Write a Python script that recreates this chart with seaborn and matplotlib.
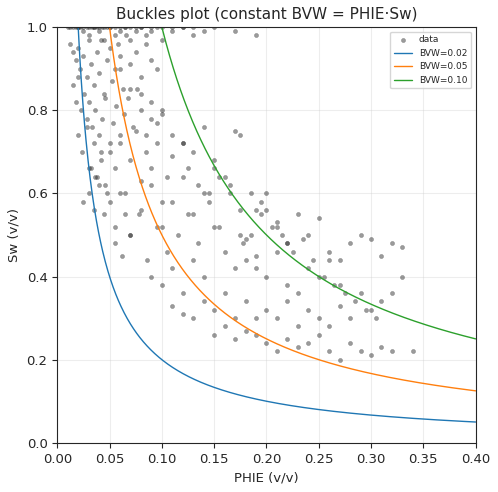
import numpy as np
import matplotlib
matplotlib.use("Agg")
import matplotlib.pyplot as plt
import seaborn as sns

phie = [0.010,0.012,0.015,0.018,0.020,0.022,0.025,0.028,0.030,0.033,0.035,0.038,0.040,0.043,0.045,0.048,0.050,0.055,0.060,0.065,0.070,0.075,0.080,0.090,0.100,0.110,0.120,0.130,0.150,0.170,0.190,
        0.012,0.015,0.018,0.020,0.022,0.025,0.028,0.030,0.032,0.035,0.038,0.040,0.042,0.045,0.048,0.050,0.052,0.055,0.058,0.060,0.063,0.066,0.070,0.075,0.080,0.085,0.090,0.095,
        0.015,0.018,0.020,0.023,0.026,0.028,0.030,0.033,0.036,0.040,0.043,0.046,0.050,0.053,0.056,0.060,0.064,0.068,0.072,0.076,0.080,0.085,0.090,0.095,0.100,
        0.020,0.024,0.028,0.032,0.035,0.038,0.042,0.046,0.050,0.055,0.060,0.065,0.070,0.075,0.080,0.085,0.090,0.095,0.100,0.105,0.110,
        0.025,0.030,0.035,0.040,0.045,0.050,0.055,0.060,0.065,0.070,0.080,0.090,0.100,0.110,0.120,0.130,0.140,0.150,
        0.030,0.036,0.042,0.048,0.055,0.062,0.070,0.078,0.086,0.095,0.105,0.115,0.125,0.135,0.145,0.155,0.165,0.175,0.185,0.195,
        0.060,0.070,0.080,0.090,0.100,0.110,0.120,0.130,0.140,0.150,0.160,0.170,0.175,0.178,0.180,0.190,0.200,0.210,0.220,
        0.090,0.100,0.110,0.120,0.130,0.140,0.150,0.160,0.170,0.180,0.190,0.200,0.210,0.220,0.230,0.240,0.250,0.260,0.270,
        0.110,0.120,0.130,0.140,0.150,0.160,0.170,0.180,0.190,0.200,0.210,0.220,0.230,0.240,0.250,0.260,0.270,0.280,0.290,0.300,0.310,0.320,0.330,
        0.150,0.160,0.170,0.180,0.190,0.200,0.210,0.220,0.230,0.240,0.250,0.260,0.270,0.280,0.290,0.300,0.310,0.320,
        0.190,0.200,0.210,0.220,0.230,0.240,0.250,0.260,0.270,0.280,0.290,0.300,0.310,0.320,0.330,0.340,
        0.120,0.125,0.135,0.145,0.155,0.165,0.175,0.185,0.195,0.205,0.215,0.225,0.235,0.245,0.255,0.265,0.275,0.285,0.295,0.305,
        0.020,0.025,0.030,0.035,0.040,0.045,0.050,0.055,0.060,0.065,0.070,0.075,0.080,0.085,0.090,0.095,0.100,0.110,0.120,0.130,0.140]
sw = [1.00,1.00,1.00,1.00,1.00,1.00,1.00,1.00,1.00,1.00,1.00,1.00,1.00,1.00,1.00,1.00,1.00,1.00,1.00,1.00,1.00,1.00,1.00,1.00,1.00,1.00,1.00,1.00,1.00,0.99,0.98,
      0.96,0.94,0.92,0.95,0.90,0.93,0.88,0.97,0.91,0.86,0.94,0.89,0.97,0.84,0.92,0.95,0.87,0.90,0.96,0.93,0.85,0.98,0.91,0.94,0.88,0.96,0.92,0.90,
      0.86,0.82,0.88,0.80,0.84,0.78,0.82,0.76,0.80,0.74,0.78,0.83,0.72,0.77,0.81,0.74,0.79,0.83,0.76,0.85,0.80,0.74,0.82,0.77,0.79,
      0.74,0.70,0.76,0.66,0.72,0.64,0.68,0.62,0.70,0.66,0.72,0.60,0.68,0.75,0.63,0.70,0.66,0.72,0.58,0.64,0.69,
      0.58,0.60,0.56,0.62,0.55,0.58,0.52,0.60,0.55,0.50,0.56,0.62,0.52,0.58,0.64,0.55,0.60,0.66,
      0.66,0.64,0.70,0.60,0.48,0.45,0.50,0.55,0.44,0.52,0.46,0.50,0.55,0.48,0.60,0.52,0.62,0.74,0.50,0.58,
      0.90,0.85,0.84,0.78,0.80,0.74,0.72,0.70,0.76,0.68,0.64,0.75,0.50,0.48,0.49,0.45,0.56,0.52,0.48,
      0.40,0.38,0.42,0.36,0.44,0.40,0.52,0.46,0.42,0.44,0.42,0.40,0.46,0.38,0.36,0.42,0.40,0.44,0.38,
      0.33,0.31,0.30,0.34,0.32,0.36,0.30,0.34,0.30,0.32,0.30,0.34,0.28,0.32,0.30,0.28,0.33,0.30,0.36,0.32,0.34,0.36,0.47,
      0.26,0.28,0.25,0.27,0.26,0.24,0.22,0.25,0.23,0.24,0.26,0.22,0.20,0.24,0.22,0.21,0.23,0.22,
      0.56,0.60,0.53,0.48,0.55,0.50,0.54,0.46,0.44,0.48,0.50,0.49,0.45,0.48,0.40,0.22,
      0.72,0.66,0.62,0.58,0.64,0.60,0.56,0.60,0.55,0.52,0.50,0.46,0.49,0.44,0.40,0.38,0.36,0.34,0.32,0.30,
      1.00,0.99,0.98,1.00,0.99,0.97,1.00,0.98,0.99,1.00,0.97,0.99,1.00,0.98,0.99,1.00,0.97,0.99,1.00,0.98,0.99]

bvw_values = [0.02, 0.05, 0.10]

sns.set_style("ticks")
plt.rcParams.update({"font.size": 9.5, "axes.titlesize": 11})
fig, ax = plt.subplots(figsize=(4.98, 4.92), dpi=100)
sns.scatterplot(x=phie, y=sw, ax=ax, s=9, color="#222222", alpha=0.45, edgecolor="#222222", linewidth=0.3, label="data")
x = np.linspace(0.001, 0.4, 800)
for b in bvw_values:
    sns.lineplot(x=x, y=b / x, ax=ax, lw=1, label=f"BVW={b:.2f}")
ax.set_xlim(0, 0.4)
ax.set_ylim(0, 1)
ax.grid(True, alpha=0.35)
ax.set_xlabel("PHIE (v/v)")
ax.set_ylabel("Sw (v/v)")
ax.set_title("Buckles plot (constant BVW = PHIE·Sw)")
ax.legend(loc="upper right", fontsize=6.5)
fig.subplots_adjust(left=0.115, right=0.955, bottom=0.1, top=0.945)
fig.savefig("out.png", dpi=100)
